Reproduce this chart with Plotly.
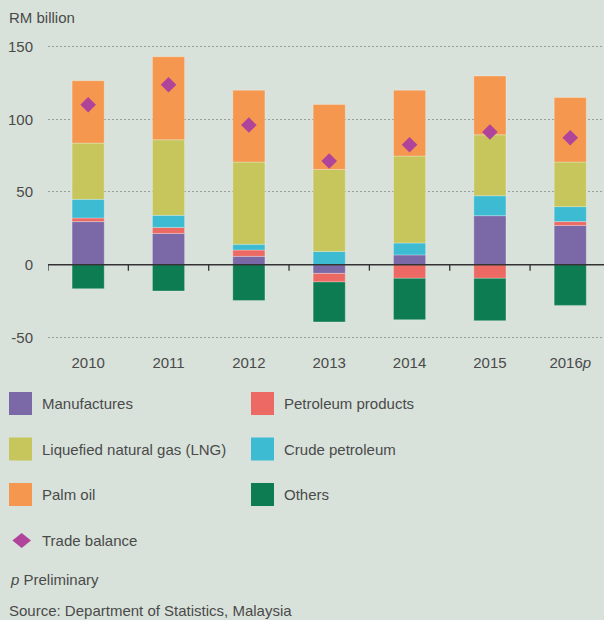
import plotly.graph_objects as go

# ---- data (RM billion) ----
years = ["2010", "2011", "2012", "2013", "2014", "2015", "2016p"]
tick_labels = ["2010", "2011", "2012", "2013", "2014", "2015", "2016<i>p</i>"]

manufactures = [29.6, 21.5, 5.7, -6.0, 6.7, 33.7, 27.0]
petroleum_products = [2.5, 4.1, 4.4, -5.9, -9.4, -9.4, 2.6]
crude_petroleum = [12.8, 8.3, 3.9, 9.1, 8.2, 13.7, 10.3]
lng = [38.7, 52.0, 56.6, 56.4, 59.8, 41.9, 30.7]
palm_oil = [42.9, 57.1, 49.4, 44.7, 45.3, 40.4, 44.4]
others = [-16.5, -18.1, -24.7, -27.5, -28.4, -29.1, -28.0]
trade_balance = [110.0, 123.7, 96.0, 71.3, 82.5, 91.2, 87.3]

y_ticks = [-50, 0, 50, 100, 150]
y_tick_labels = ["-50", "0", "50", "100", "150"]

series = [
    ("Manufactures", manufactures, "#7b68a7"),
    ("Petroleum products", petroleum_products, "#ec6a63"),
    ("Crude petroleum", crude_petroleum, "#3dbbd3"),
    ("Liquefied natural gas (LNG)", lng, "#c6c65c"),
    ("Palm oil", palm_oil, "#f5974f"),
    ("Others", others, "#0e7c52"),
]
MAGENTA = "#b0449b"
BG = "#d8e2da"
TXT = "#4a4a4a"
FONT = "Liberation Sans, Arial, sans-serif"

W, H = 604, 620
ML, MR, MT, MB = 48, 0, 32, 271
PW, PH = W - ML - MR, H - MT - MB


def px(x):
    return (x - ML) / PW


def py(y):
    return (H - MB - y) / PH


fig = go.Figure()
for name, vals, col in series:
    fig.add_trace(go.Bar(
        x=years, y=vals, name=name, width=0.4,
        marker=dict(color=col, line=dict(color="rgba(255,255,255,0.35)", width=0.8)),
        showlegend=False,
    ))

fig.add_trace(go.Scatter(
    x=years, y=trade_balance, name="Trade balance", mode="markers",
    marker=dict(symbol="diamond", size=12, color=MAGENTA, line=dict(width=0)),
    showlegend=False,
))

shapes = []
# zero axis line with category-boundary ticks
shapes.append(dict(type="line", xref="paper", yref="y", x0=0, x1=1, y0=0, y1=0,
                   line=dict(color="#333333", width=1.5), layer="above"))
for i in range(len(years)):
    shapes.append(dict(type="line", xref="x", yref="y", ysizemode="pixel", yanchor=0,
                       x0=i - 0.5, x1=i - 0.5, y0=0, y1=-6,
                       line=dict(color="#333333", width=1.3), layer="above"))

annotations = []
annotations.append(dict(text="RM billion", xref="paper", yref="paper", x=px(7), y=py(17),
                        xanchor="left", yanchor="middle", showarrow=False,
                        font=dict(size=15, color=TXT, family=FONT)))

# manual legend
legend_items = [
    ("Manufactures", "#7b68a7", 9, 40, 403.5),
    ("Petroleum products", "#ec6a63", 251, 282, 403.5),
    ("Liquefied natural gas (LNG)", "#c6c65c", 9, 40, 449),
    ("Crude petroleum", "#3dbbd3", 251, 282, 449),
    ("Palm oil", "#f5974f", 9, 40, 494.5),
    ("Others", "#0e7c52", 251, 282, 494.5),
]
for name, col, sx, tx, cy in legend_items:
    shapes.append(dict(type="rect", xref="paper", yref="paper",
                       x0=px(sx), x1=px(sx + 23), y0=py(cy + 11.5), y1=py(cy - 11.5),
                       fillcolor=col, line=dict(width=0)))
    annotations.append(dict(text=name, xref="paper", yref="paper", x=px(tx), y=py(cy),
                            xanchor="left", yanchor="middle", showarrow=False,
                            font=dict(size=15, color=TXT, family=FONT)))

# trade balance legend diamond
cx, cy = 21.7, 540.5
hw, hh = 9.3, 7.5
path = "M {} {} L {} {} L {} {} L {} {} Z".format(
    px(cx - hw), py(cy), px(cx), py(cy - hh), px(cx + hw), py(cy), px(cx), py(cy + hh))
shapes.append(dict(type="path", xref="paper", yref="paper", path=path,
                   fillcolor=MAGENTA, line=dict(width=0)))
annotations.append(dict(text="Trade balance", xref="paper", yref="paper", x=px(40), y=py(cy),
                        xanchor="left", yanchor="middle", showarrow=False,
                        font=dict(size=15, color=TXT, family=FONT)))

annotations.append(dict(text="<i>p</i> Preliminary", xref="paper", yref="paper", x=px(8), y=py(579),
                        xanchor="left", yanchor="middle", showarrow=False,
                        font=dict(size=15, color=TXT, family=FONT)))
annotations.append(dict(text="Source: Department of Statistics, Malaysia", xref="paper", yref="paper",
                        x=px(7), y=py(610), xanchor="left", yanchor="middle", showarrow=False,
                        font=dict(size=15, color=TXT, family=FONT)))

fig.update_layout(
    width=W, height=H,
    margin=dict(l=ML, r=MR, t=MT, b=MB, pad=0),
    paper_bgcolor=BG, plot_bgcolor=BG,
    barmode="relative",
    bargap=0.6,
    showlegend=False,
    font=dict(family=FONT, color=TXT, size=15),
    xaxis=dict(
        type="category", range=[-0.5, 6.42],
        tickvals=years, ticktext=tick_labels,
        showgrid=False, zeroline=False, showline=False, ticks="",
        ticklabelstandoff=3,
        tickfont=dict(size=15, color=TXT, family=FONT),
        fixedrange=True,
    ),
    yaxis=dict(
        range=[-58, 160], tickvals=y_ticks, ticktext=y_tick_labels,
        showgrid=True, gridcolor="#9c9c9c", gridwidth=1, griddash="2px,2px",
        zeroline=False, showline=False, ticks="",
        ticklabelstandoff=14,
        tickfont=dict(size=15, color=TXT, family=FONT),
        fixedrange=True,
    ),
    shapes=shapes,
    annotations=annotations,
)

fig.write_html(
    "out.html",
    config={"displayModeBar": False},
    post_script="document.body.style.margin='0';document.body.style.overflow='hidden';",
)
